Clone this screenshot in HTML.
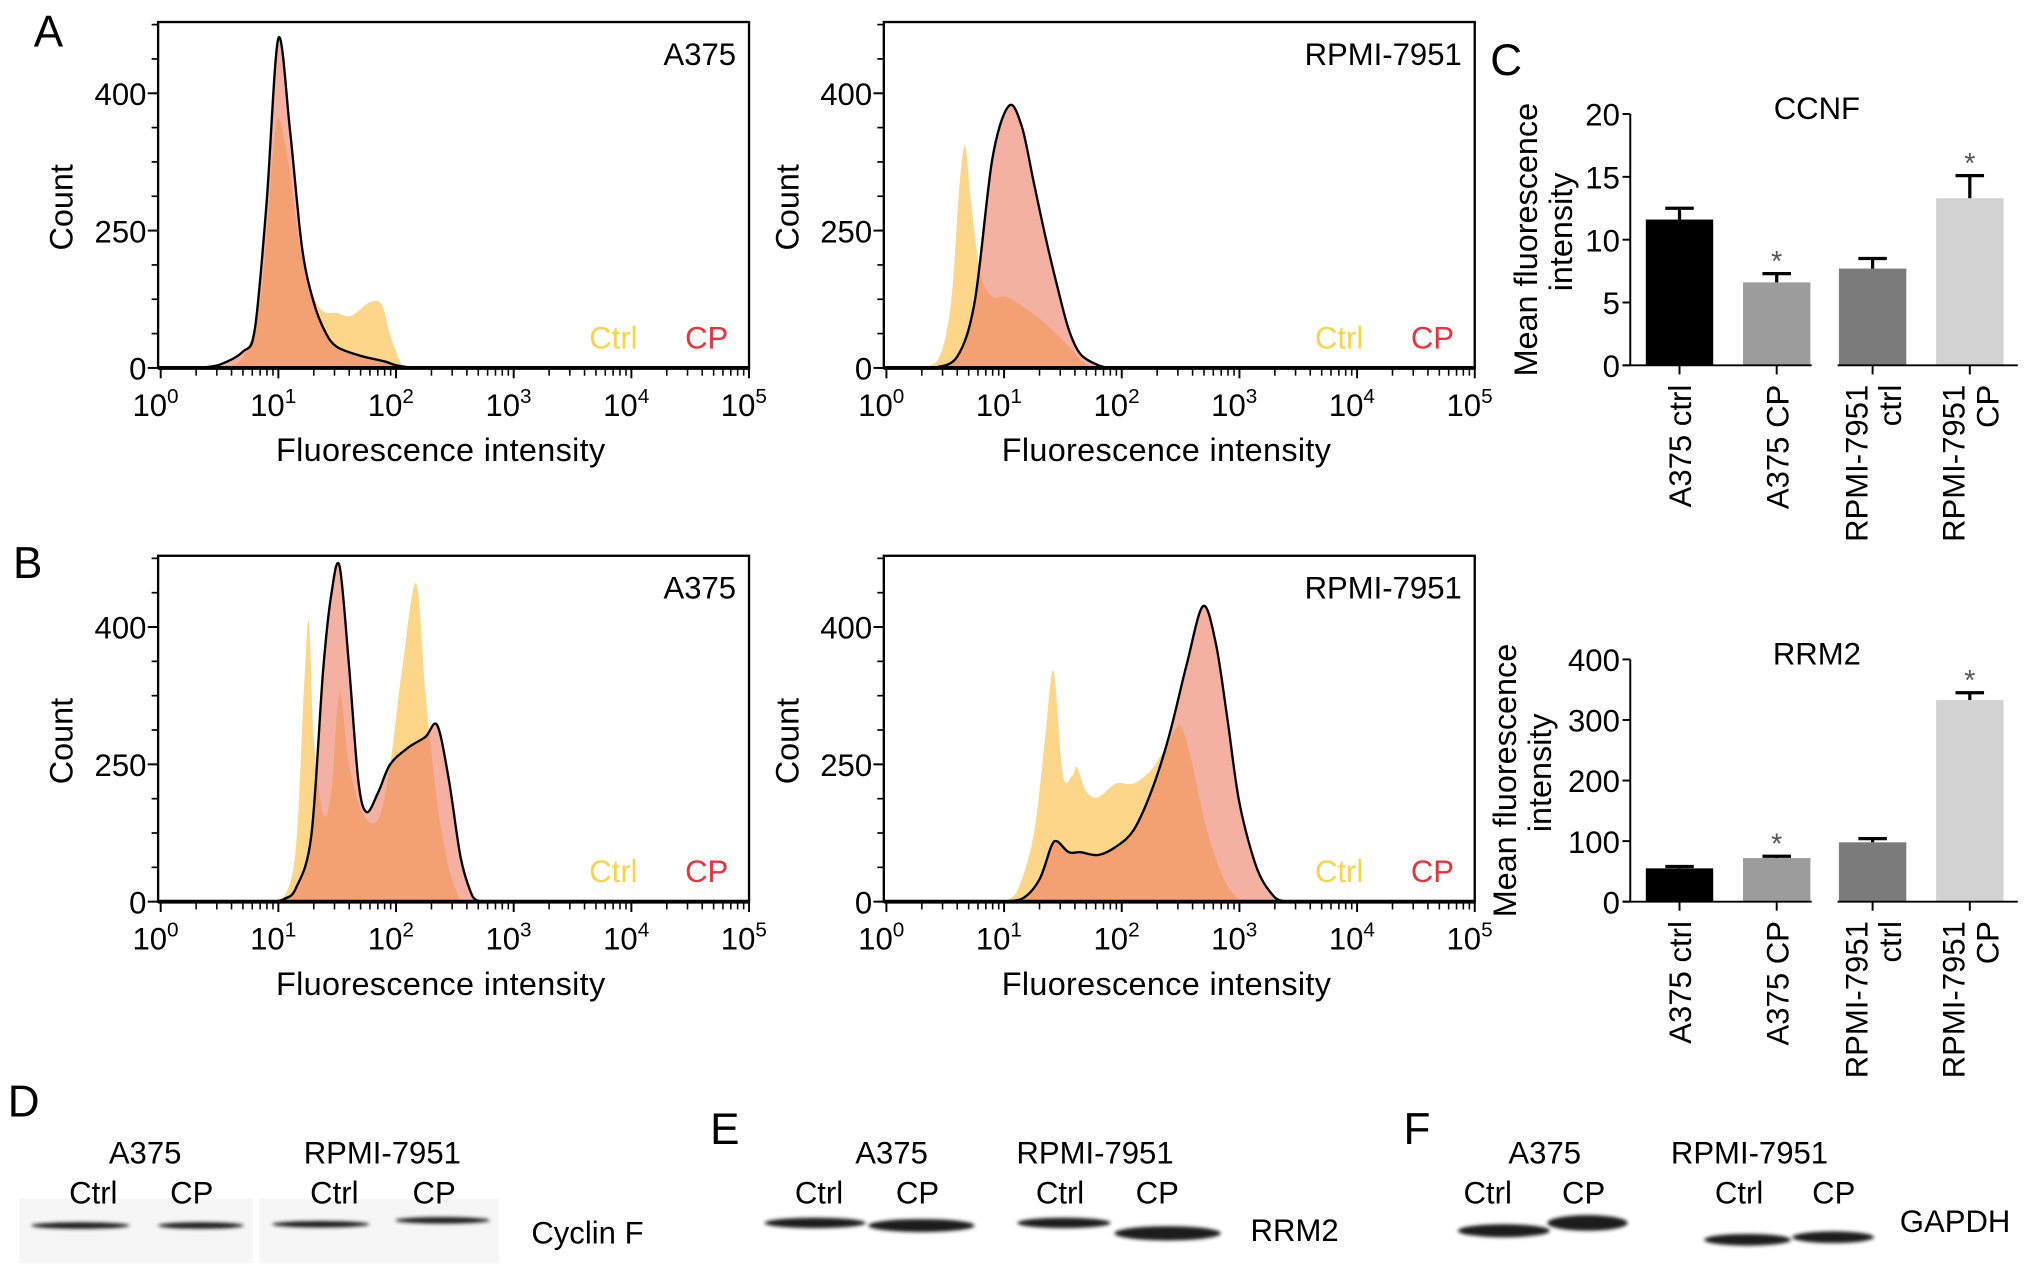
<!DOCTYPE html>
<html><head><meta charset="utf-8"><style>
html,body{margin:0;padding:0;background:#fff;}
svg{display:block;font-family:"Liberation Sans",Arial,sans-serif;}
</style></head><body>
<svg id="fig" width="2032" height="1267" viewBox="0 0 1568 978" preserveAspectRatio="none" xmlns="http://www.w3.org/2000/svg">
<rect width="1568" height="978" fill="#fff"/>
<g id="hist"></g>
<g id="bars"></g>
<g id="blots"></g>
<g font-size="34" fill="#000">
<text x="26" y="36">A</text>
<text x="10" y="446">B</text>
<text x="1150" y="58">C</text>
<text x="6" y="862">D</text>
<text x="548" y="883">E</text>
<text x="1083" y="883">F</text>
</g>
</svg>
<script>
// ---------- histogram data (x = log10 intensity, y = count units) ----------
const a375A_ctrl = [[0.3,0],[0.5,3],[0.7,20],[0.85,130],[0.95,380],[1.0,455],[1.08,380],[1.2,200],[1.35,110],[1.5,100],[1.62,95],[1.78,120],[1.88,115],[1.95,60],[2.05,5],[2.1,0]];
const a375A_cp = [[0.3,0],[0.5,6],[0.7,30],[0.8,70],[0.9,300],[1.0,600],[1.1,430],[1.2,220],[1.3,120],[1.4,65],[1.5,38],[1.7,22],[1.9,12],[2.0,5],[2.15,0]];
const rpmiA_ctrl = [[0.3,0],[0.45,20],[0.55,120],[0.62,330],[0.67,404],[0.72,300],[0.8,170],[0.9,130],[1.0,130],[1.1,120],[1.3,90],[1.5,50],[1.65,15],[1.75,0]];
const rpmiA_cp = [[0.4,0],[0.6,20],[0.75,120],[0.9,380],[1.04,477],[1.15,440],[1.25,340],[1.35,240],[1.45,150],[1.55,70],[1.65,25],[1.8,5],[1.9,0]];
const a375B_ctrl = [[0.9,0],[1.05,10],[1.15,100],[1.22,400],[1.26,510],[1.3,300],[1.38,160],[1.45,200],[1.52,380],[1.6,250],[1.72,160],[1.85,150],[1.95,250],[2.05,420],[2.17,580],[2.25,380],[2.35,180],[2.45,60],[2.55,0]];
const a375B_cp = [[0.95,0],[1.05,5],[1.15,25],[1.28,120],[1.38,420],[1.45,560],[1.52,611],[1.6,430],[1.68,220],[1.75,163],[1.85,200],[1.95,250],[2.1,280],[2.25,300],[2.35,321],[2.45,220],[2.55,80],[2.65,10],[2.72,0]];
const rpmiB_ctrl = [[0.95,0],[1.1,15],[1.25,120],[1.35,300],[1.42,420],[1.5,230],[1.58,230],[1.62,245],[1.7,200],[1.8,190],[1.95,215],[2.1,215],[2.25,240],[2.4,290],[2.5,320],[2.6,250],[2.7,150],[2.85,50],[3.0,0]];
const rpmiB_cp = [[0.95,0],[1.15,5],[1.3,40],[1.4,100],[1.45,110],[1.55,90],[1.65,90],[1.8,85],[1.95,100],[2.1,130],[2.25,200],[2.4,300],[2.55,430],[2.69,538],[2.8,470],[2.9,330],[3.0,180],[3.15,60],[3.3,8],[3.4,0]];
const histYTickValues = [0,250,500];
const histYTickLabels = ["0","250","400"];
const histXDecades = [0,1,2,3,4,5];

// ---------- bar data ----------
const barCategories = ["A375 ctrl","A375 CP","RPMI-7951|ctrl","RPMI-7951|CP"];
const ccnfValues = [11.6,6.6,7.7,13.3];
const ccnfErrors = [0.9,0.7,0.8,1.8];
const ccnfSig = [false,true,false,true];
const ccnfTicks = [0,5,10,15,20];
const rrm2Values = [55,72,98,333];
const rrm2Errors = [3,3,6,12];
const rrm2Sig = [false,true,false,true];
const rrm2Ticks = [0,100,200,300,400];

const NS = "http://www.w3.org/2000/svg";
function mk(tag, attrs, parent, text){
  const e = document.createElementNS(NS, tag);
  for (const k in attrs) e.setAttribute(k, attrs[k]);
  if (text !== undefined) e.textContent = text;
  parent.appendChild(e);
  return e;
}
const FS = 24;

function histPanel(parent, name, bx, by, title, ctrl, cp){
  const g = mk('g', {}, parent);
  
  
  const W = 456, H = 267;
  const x0 = bx + 2, dec = 90.8;
  const X = v => x0 + v * dec;
  const base = by + H;
  const Y = c => base - c * (106 / 250);
  function pathOf(d){
    const P = d.map(p => [X(p[0]), Y(p[1])]);
    let s = 'M' + P[0][0].toFixed(1) + ',' + base + ' L' + P[0][0].toFixed(1) + ',' + P[0][1].toFixed(1);
    for (let i = 0; i < P.length - 1; i++){
      const p0 = P[Math.max(0,i-1)], p1 = P[i], p2 = P[i+1], p3 = P[Math.min(P.length-1,i+2)];
      const t = 0.16;
      const c1x = p1[0] + (p2[0]-p0[0])*t, c1y = Math.min(base, p1[1] + (p2[1]-p0[1])*t);
      const c2x = p2[0] - (p3[0]-p1[0])*t, c2y = Math.min(base, p2[1] - (p3[1]-p1[1])*t);
      s += ' C' + c1x.toFixed(1) + ',' + c1y.toFixed(1) + ' ' + c2x.toFixed(1) + ',' + c2y.toFixed(1) + ' ' + p2[0].toFixed(1) + ',' + p2[1].toFixed(1);
    }
    s += ' L' + P[P.length-1][0].toFixed(1) + ',' + base + ' Z';
    return s;
  }
  const pc = mk('path', {d: pathOf(ctrl), fill: '#fdd27c', 'fill-opacity': '0.9'}, g);
  
  
  const pp = mk('path', {d: pathOf(cp), fill: '#ee7f66', 'fill-opacity': '0.62', stroke: '#000', 'stroke-width': '1.8', 'stroke-linejoin': 'round'}, g);
  
  
  const fr = mk('rect', {x: bx, y: by, width: W, height: H, fill: 'none', stroke: '#000', 'stroke-width': '1.8'}, g);
  
  
  mk('line', {x1: bx, y1: base, x2: bx+W, y2: base, stroke: '#000', 'stroke-width': '3'}, g);
  histXDecades.forEach(d => {
    mk('line', {x1: X(d), y1: base, x2: X(d), y2: base+8, stroke: '#000', 'stroke-width': '1.5'}, g);
    const t = mk('text', {x: X(d) - 4, y: base + 37, 'font-size': FS, 'text-anchor': 'middle'}, g);
    
    
    mk('tspan', {}, t, '10');
    mk('tspan', {dy: '-10', 'font-size': '16'}, t, String(d));
    if (d < 5) for (let m = 2; m < 10; m++){
      const xm = X(d + Math.log10(m));
      mk('line', {x1: xm, y1: base, x2: xm, y2: base+6, stroke: '#000', 'stroke-width': '1.2'}, g);
    }
  });
  for (let i = 0; i <= 10; i++){
    const yy = Y(i * 62.5);
    if (yy < by) break;
    mk('line', {x1: bx-5, y1: yy, x2: bx, y2: yy, stroke: '#000', 'stroke-width': '1.3'}, g);
  }
  histYTickValues.forEach((v, i) => {
    mk('line', {x1: bx-8, y1: Y(v), x2: bx, y2: Y(v), stroke: '#000', 'stroke-width': '1.5'}, g);
    const t = mk('text', {x: bx-9, y: Y(v)+9, 'font-size': FS, 'text-anchor': 'end'}, g, histYTickLabels[i]);
    
    
  });
  const tt = mk('text', {x: bx+W-10, y: by+33, 'font-size': FS, 'text-anchor': 'end'}, g, title);
  
  
  const lc = mk('text', {x: bx+W-86, y: by+H-15, 'font-size': FS, fill: '#f9d448', 'text-anchor': 'end'}, g, 'Ctrl');
  
  
  const lp = mk('text', {x: bx+W-16, y: by+H-15, 'font-size': FS, fill: '#e8333a', 'text-anchor': 'end'}, g, 'CP');
  
  
  const xt = mk('text', {x: bx+218, y: by+H+72, 'font-size': '25', 'text-anchor': 'middle', textLength: '254'}, g, 'Fluorescence intensity');
  
  
  const yt = mk('text', {x: 0, y: 0, 'font-size': '25', 'text-anchor': 'middle', transform: 'translate(' + (bx-66) + ',' + (by+143) + ') rotate(-90)'}, g, 'Count');
  
  
}
const hg = document.getElementById('hist');
histPanel(hg, 'histogram-a375-ccnf', 122, 17, 'A375', a375A_ctrl, a375A_cp);
histPanel(hg, 'histogram-rpmi-ccnf', 682, 17, 'RPMI-7951', rpmiA_ctrl, rpmiA_cp);
histPanel(hg, 'histogram-a375-rrm2', 122, 429, 'A375', a375B_ctrl, a375B_cp);
histPanel(hg, 'histogram-rpmi-rrm2', 682, 429, 'RPMI-7951', rpmiB_ctrl, rpmiB_cp);

function barChart(parent, name, title, y0px, y1px, vmax, vals, errs, sig, ticks){
  const g = mk('g', {}, parent);
  
  
  const ax = 1258;
  const Y = v => y0px - (v / vmax) * (y0px - y1px);
  const centers = [1296, 1371, 1445, 1520];
  const colors = ['#000', '#9c9c9c', '#7b7b7b', '#d2d2d2'];
  const bw = 52;
  vals.forEach((v, i) => {
    const r = mk('rect', {x: centers[i]-bw/2, y: Y(v), width: bw, height: y0px - Y(v), fill: colors[i]}, g);
    
    
    const ye = Y(v + errs[i]);
    mk('line', {x1: centers[i], y1: Y(v), x2: centers[i], y2: ye, stroke: '#000', 'stroke-width': '2.5'}, g);
    mk('line', {x1: centers[i]-11, y1: ye, x2: centers[i]+11, y2: ye, stroke: '#000', 'stroke-width': '2.5'}, g);
    if (sig[i]){
      const s = mk('text', {x: centers[i], y: ye - 2, 'font-size': '22', fill: '#555', 'text-anchor': 'middle'}, g, '*');
      
      
    }
    const parts = barCategories[i].split('|');
    const n = parts.length;
    parts.forEach((p, j) => {
      const xx = centers[i] + 9 + (j - (n-1)/2) * 26;
      const t = mk('text', {x: 0, y: 0, 'font-size': FS, 'text-anchor': 'end', transform: 'translate(' + xx + ',' + (y0px+15) + ') rotate(-90)'}, g, p);
      
      
    });
    mk('line', {x1: centers[i], y1: y0px, x2: centers[i], y2: y0px+7, stroke: '#000', 'stroke-width': '1.5'}, g);
  });
  mk('line', {x1: ax, y1: y1px, x2: ax, y2: y0px, stroke: '#000', 'stroke-width': '1.5'}, g);
  mk('line', {x1: ax-6, y1: y0px, x2: 1398, y2: y0px, stroke: '#000', 'stroke-width': '1.5'}, g);
  mk('line', {x1: 1418, y1: y0px, x2: 1557, y2: y0px, stroke: '#000', 'stroke-width': '1.5'}, g);
  ticks.forEach(v => {
    mk('line', {x1: ax-6, y1: Y(v), x2: ax, y2: Y(v), stroke: '#000', 'stroke-width': '1.5'}, g);
    const t = mk('text', {x: ax-8, y: Y(v)+9, 'font-size': FS, 'text-anchor': 'end'}, g, String(v));
    
    
  });
  const tt = mk('text', {x: 1402, y: y1px + 4, 'font-size': FS, 'text-anchor': 'middle'}, g, title);
  
  
  const yl = (y0px + y1px) / 2;
  const xl = name.indexOf('ccnf') >= 0 ? 1186 : 1170;
  const t1 = mk('text', {x: 0, y: 0, 'font-size': '25', 'text-anchor': 'middle', transform: 'translate(' + xl + ',' + yl + ') rotate(-90)'}, g, 'Mean fluorescence');
  
  
  const t2 = mk('text', {x: 0, y: 0, 'font-size': '25', 'text-anchor': 'middle', transform: 'translate(' + (xl+27) + ',' + (yl-6) + ') rotate(-90)'}, g, 'intensity');
  
  
}
const bg = document.getElementById('bars');
barChart(bg, 'bar-chart-ccnf', 'CCNF', 282, 88, 20, ccnfValues, ccnfErrors, ccnfSig, ccnfTicks);
barChart(bg, 'bar-chart-rrm2', 'RRM2', 696, 509, 400, rrm2Values, rrm2Errors, rrm2Sig, rrm2Ticks);

// ---------- western blots ----------
const blots = [
  {name:'blot-cyclin-f', label:'Cyclin F', lx:410, ly:960, groups:[['A375',112],['RPMI-7951',295]], lanes:[['Ctrl',72],['CP',148],['Ctrl',258],['CP',335]],
   bands:[[24,100,946,3],[122,188,946,3],[210,285,945,3],[305,378,942,3]], bg:[[15,195,925,975],[200,385,925,975]]},
  {name:'blot-rrm2', label:'RRM2', lx:965, ly:958, groups:[['A375',688],['RPMI-7951',845]], lanes:[['Ctrl',632],['CP',708],['Ctrl',818],['CP',893]],
   bands:[[590,668,944,6],[670,752,946,8],[785,857,944,6],[860,942,952,9]], bg:[]},
  {name:'blot-gapdh', label:'GAPDH', lx:1466, ly:951, groups:[['A375',1192],['RPMI-7951',1350]], lanes:[['Ctrl',1148],['CP',1222],['Ctrl',1342],['CP',1415]],
   bands:[[1125,1196,950,8],[1194,1256,944,10],[1315,1382,957,7],[1383,1446,955,7]], bg:[]}
];
const blg = document.getElementById('blots');
mk('defs', {}, blg).innerHTML = '<filter id="blur" x="-10%" y="-150%" width="120%" height="400%"><feGaussianBlur stdDeviation="1.4"/></filter>';
blots.forEach(b => {
  const g = mk('g', {}, blg);
  
  
  b.bg.forEach(r => mk('rect', {x: r[0], y: r[2], width: r[1]-r[0], height: r[3]-r[2], fill: '#f6f6f6'}, g));
  b.groups.forEach(gr => {
    const t = mk('text', {x: gr[1], y: 898, 'font-size': FS, 'text-anchor': 'middle'}, g, gr[0]);
    
    
  });
  b.lanes.forEach(l => {
    const t = mk('text', {x: l[1], y: 929, 'font-size': FS, 'text-anchor': 'middle'}, g, l[0]);
    
    
  });
  b.bands.forEach(bd => {
    const e = mk('ellipse', {cx: (bd[0]+bd[1])/2, cy: bd[2], rx: (bd[1]-bd[0])/2, ry: bd[3]/2+1, fill: '#1a1a1a', filter: 'url(#blur)'}, g);
    
    
  });
  const t = mk('text', {x: b.lx, y: b.ly, 'font-size': FS}, g, b.label);
  
  
});
</script>
</body></html>
